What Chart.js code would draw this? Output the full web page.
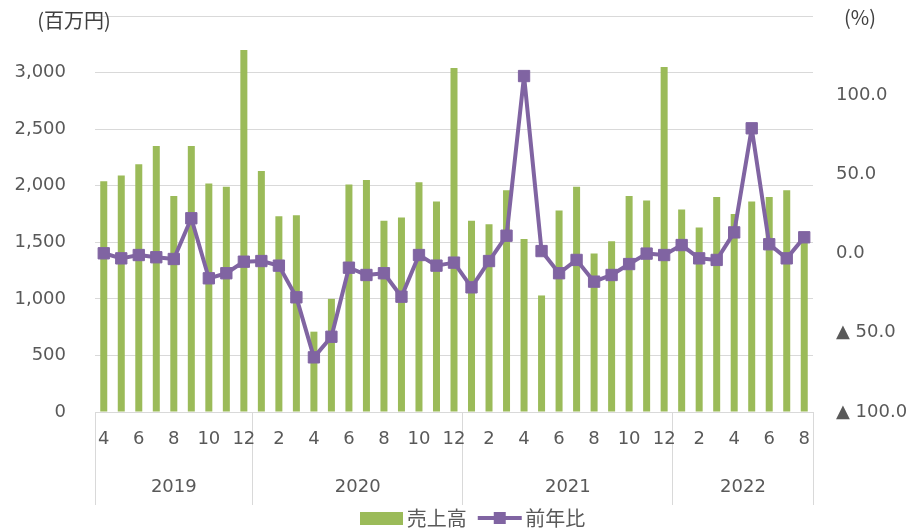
<!DOCTYPE html>
<html>
<head>
<meta charset="utf-8">
<script src="https://cdn.jsdelivr.net/npm/chart.js@4"></script>
<style>
  body { margin: 0; background: #fff; }
  #wrap { width: 919px; height: 528px; }
</style>
</head>
<body>
<div id="wrap"><canvas id="chart"></canvas></div>
<script>
// 月ラベル (2019/4 - 2022/8)
const monthLabels = ['4','5','6','7','8','9','10','11','12',
  '1','2','3','4','5','6','7','8','9','10','11','12',
  '1','2','3','4','5','6','7','8','9','10','11','12',
  '1','2','3','4','5','6','7','8'];
const years = ['2019', '2020', '2021', '2022'];
const monthsPerYear = [9, 12, 12, 8];

// 売上高 (百万円)
const sales = [2040, 2090, 2190, 2350, 1910, 2350, 2020, 1990, 3200,
  2130, 1730, 1740, 710, 1000, 2010, 2050, 1690, 1720, 2030, 1860, 3040,
  1690, 1660, 1960, 1530, 1030, 1780, 1990, 1400, 1510, 1910, 1870, 3050,
  1790, 1630, 1900, 1750, 1860, 1900, 1960, 1540];

// 前年比 (%)
const yoy = [0.2, -3.0, -0.9, -2.3, -3.4, 22.3, -15.6, -12.4, -5.1,
  -4.7, -7.6, -27.6, -65.5, -52.5, -8.9, -13.5, -12.4, -27.2, -0.9, -7.6, -5.7,
  -21.3, -4.7, 11.3, 112.1, 1.6, -12.4, -4.0, -17.7, -13.5, -6.6, 0.0, -0.9,
  5.4, -3.0, -4.0, 13.4, 79.1, 5.9, -3.0, 10.3];

const green = '#9BBB59';
const purple = '#8064A2';
const gridColor = '#d9d9d9';
const tickColor = '#595959';
const clear = 'rgba(0,0,0,0)';

// year boundaries / centers in category-index units
const boundaries = [-0.5];
const centers = [];
let start = 0;
monthsPerYear.forEach(n => {
  centers.push(start + (n - 1) / 2);
  start += n;
  boundaries.push(start - 0.5);
});
const boundaryIdx = boundaries.map(b => b + 0.5);

// legend icons
const barIcon = document.createElement('canvas');
barIcon.width = 43;
barIcon.height = 13;
barIcon.getContext('2d').fillStyle = green;
barIcon.getContext('2d').fillRect(0, 0, 43, 13);

const lineIcon = document.createElement('canvas');
lineIcon.width = 46;
lineIcon.height = 14;
(function () {
  const c = lineIcon.getContext('2d');
  c.strokeStyle = purple;
  c.lineWidth = 4;
  c.beginPath();
  c.moveTo(1, 7);
  c.lineTo(45, 7);
  c.stroke();
  c.fillStyle = purple;
  c.fillRect(17, 1, 12, 12);
})();

const unitLabels = {
  id: 'unitLabels',
  afterLayout(chart) {
    // nudge the legend to where it sits in the original
    const lg = chart.legend;
    lg.left += 16;
    lg.right += 16;
    lg.top -= 14.5;
    lg.bottom -= 14.5;
  },
  afterDraw(chart) {
    const ctx = chart.ctx;
    ctx.save();
    ctx.fillStyle = '#404040';
    ctx.font = '20px "Noto Sans CJK JP"';
    ctx.textBaseline = 'middle';
    ctx.textAlign = 'center';
    ctx.fillText('(百万円)', 74, 20);
    ctx.fillText('(%)', 860, 17);
    ctx.restore();
  }
};

// keep the plot area fixed: no extra padding from tick labels
function fixWidth(w) {
  return s => {
    s.width = w;
    s.paddingTop = 0;
    s.paddingBottom = 0;
  };
}

function monthSep(ctx) {
  if (!ctx.tick) return gridColor; // right end line
  return boundaryIdx.includes(ctx.tick.value) ? gridColor : clear;
}

new Chart(document.getElementById('chart'), {
  type: 'bar',
  data: {
    labels: monthLabels,
    datasets: [{
      label: '売上高',
      data: sales,
      backgroundColor: green,
      barPercentage: 0.4,
      categoryPercentage: 1,
      yAxisID: 'y',
      order: 1
    }, {
      type: 'line',
      label: '前年比',
      data: yoy,
      borderColor: purple,
      backgroundColor: purple,
      borderWidth: 4,
      borderJoinStyle: 'round',
      pointStyle: 'rect',
      pointRadius: 8,
      pointBorderWidth: 1,
      tension: 0,
      yAxisID: 'y1',
      order: 0
    }]
  },
  options: {
    responsive: true,
    maintainAspectRatio: false,
    animation: false,
    layout: { padding: { top: 16, bottom: -24.5, left: 0, right: 0 } },
    plugins: {
      tooltip: { enabled: false },
      legend: {
        position: 'bottom',
        labels: {
          usePointStyle: true,
          pointStyleWidth: 31,
          boxHeight: 13,
          padding: 17.5,
          color: tickColor,
          font: { family: '"Noto Sans CJK JP"', size: 20 },
          generateLabels: chart => {
            const items = Chart.defaults.plugins.legend.labels.generateLabels(chart);
            items.sort((a, b) => a.datasetIndex - b.datasetIndex);
            items[0].pointStyle = barIcon;
            items[1].pointStyle = lineIcon;
            return items;
          }
        }
      }
    },
    scales: {
      x: {
        offset: true,
        grid: {
          offset: true,
          drawOnChartArea: false,
          tickLength: 48,
          color: monthSep,
          tickColor: monthSep
        },
        border: { display: true, color: gridColor },
        ticks: {
          autoSkip: false,
          maxRotation: 0,
          padding: -31,
          color: tickColor,
          font: { family: '"DejaVu Sans"', size: 18 },
          callback: (v, i) => i % 2 === 0 ? monthLabels[i] : ''
        },
        afterFit: s => { s.height = 48; }
      },
      x2: {
        type: 'linear',
        position: 'bottom',
        weight: 1,
        min: -0.5,
        max: 40.5,
        offset: false,
        afterBuildTicks: s => {
          s.ticks = boundaries.concat(centers).sort((a, b) => a - b).map(v => ({ value: v }));
        },
        grid: {
          offset: false,
          drawOnChartArea: false,
          tickLength: 45,
          color: ctx => ctx.tick && boundaries.includes(ctx.tick.value) ? gridColor : clear
        },
        border: { display: false },
        ticks: {
          autoSkip: false,
          maxRotation: 0,
          padding: -28,
          color: tickColor,
          font: { family: '"DejaVu Sans"', size: 18 },
          callback: v => {
            const k = centers.indexOf(v);
            return k >= 0 ? years[k] : '';
          }
        },
        afterFit: s => { s.height = 45; }
      },
      y: {
        position: 'left',
        min: 0,
        max: 3500,
        grid: { color: gridColor, drawTicks: false },
        border: { display: false },
        ticks: {
          stepSize: 500,
          padding: 29,
          color: tickColor,
          font: { family: '"DejaVu Sans"', size: 18 },
          callback: v => v === 3500 ? '' : v.toLocaleString('en-US')
        },
        afterFit: fixWidth(95)
      },
      y1: {
        position: 'right',
        min: -100,
        max: 150,
        grid: { drawOnChartArea: false, drawTicks: false },
        border: { display: false },
        ticks: {
          stepSize: 50,
          padding: 23,
          color: tickColor,
          font: { family: '"DejaVu Sans"', size: 18 },
          callback: v => v === 150 ? '' : (v < 0 ? '▲ ' + Math.abs(v).toFixed(1) : v.toFixed(1))
        },
        afterFit: fixWidth(106)
      }
    }
  },
  plugins: [unitLabels]
});
</script>
</body>
</html>
